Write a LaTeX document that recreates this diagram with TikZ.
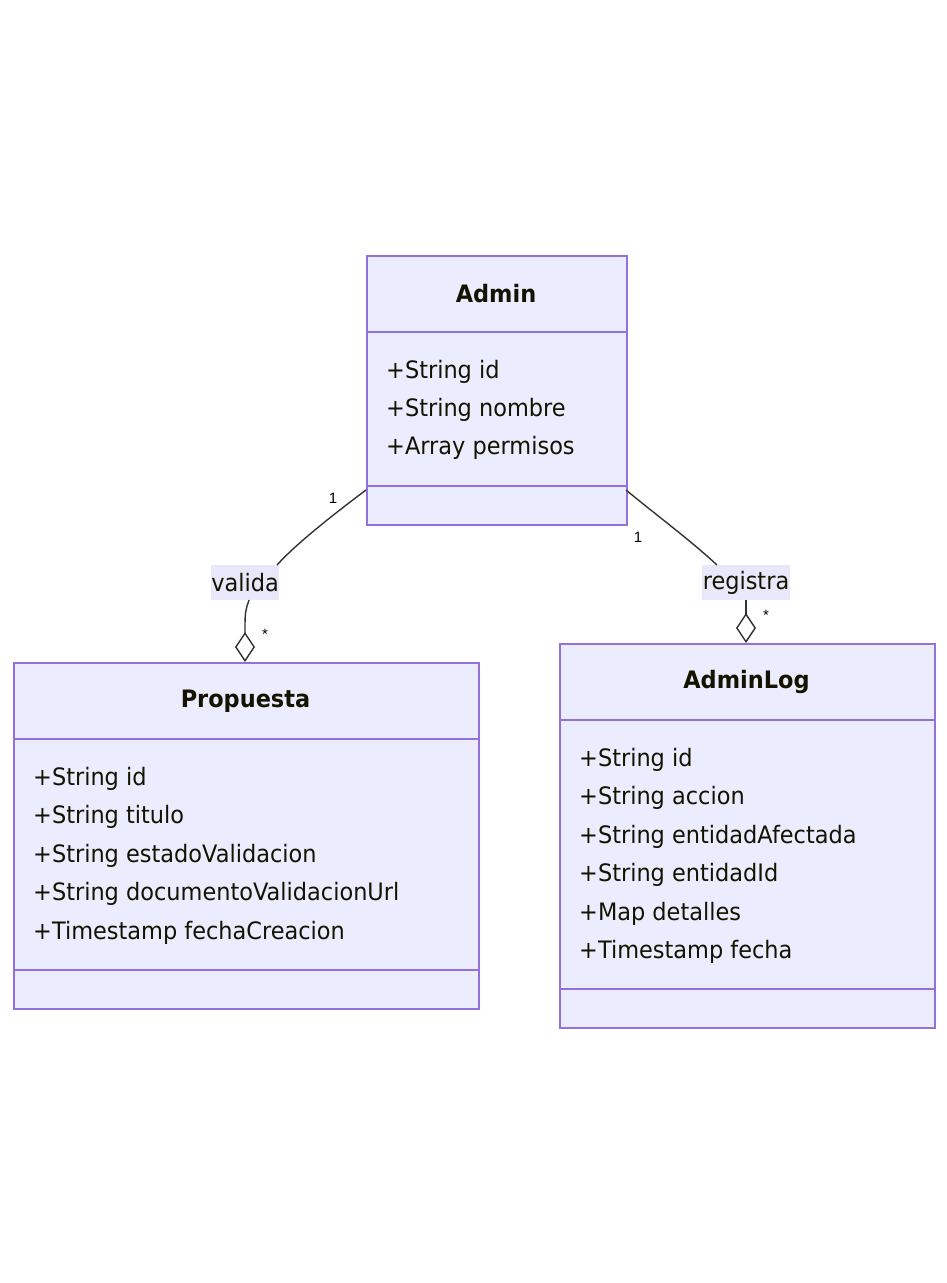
\documentclass[tikz,border=0pt]{standalone}
\usepackage{fontspec}
\setmainfont[FakeStretch=0.935]{DejaVu Sans}
\newfontfamily\smallfont{Liberation Sans}
\usetikzlibrary{arrows.meta}
\definecolor{clsfill}{HTML}{ECECFF}
\definecolor{clsline}{HTML}{9370DB}
\definecolor{txt}{HTML}{131300}
\definecolor{edgec}{HTML}{333333}
\definecolor{lblfill}{HTML}{E8E8FA}
\tikzset{
  cls/.style={draw=clsline, fill=clsfill, line width=1.6pt, anchor=north west, inner sep=0pt},
  div/.style={draw=clsline, line width=1.6pt},
  title/.style={font=\fontsize{24}{28}\selectfont\bfseries, text=txt, anchor=center},
  mem/.style={font=\fontsize{24}{28}\selectfont, text=txt, anchor=west, inner sep=0pt},
  lbl/.style={font=\fontsize{24}{28}\selectfont, text=txt, fill=lblfill, inner sep=0pt, minimum height=35pt},
  card/.style={font=\smallfont\fontsize{15}{17}\selectfont, text=black, inner sep=0pt},
  edge/.style={draw=edgec, line width=1.4pt},
  agg/.style={-{Diamond[fill=white, length=30pt, width=20pt, line width=1.4pt]}}
}
\begin{document}
\begin{tikzpicture}[x=1pt, y=-1pt]
\useasboundingbox (0,0) rectangle (947,1283);
% Admin
\node[cls, minimum width=260pt, minimum height=269pt] (admin) at (366,255) {};
\draw[div] (366,332) -- (626,332);
\draw[div] (366,486) -- (626,486);
\node[title] (adminT) at (496,294) {Admin};
\node[mem] (adm1) at (386,371.5) {+String id};
\node[mem] (adm2) at (386,409.5) {+String nombre};
\node[mem] (adm3) at (386,447.5) {+Array permisos};
% Propuesta
\node[cls, minimum width=465pt, minimum height=346pt] (prop) at (13,662) {};
\draw[div] (13,739) -- (478,739);
\draw[div] (13,970) -- (478,970);
\node[title] (propT) at (245.5,701) {Propuesta};
\node[mem] (p1) at (33,778.5) {+String id};
\node[mem] (p2) at (33,816.5) {+String titulo};
\node[mem] (p3) at (33,855.5) {+String estadoValidacion};
\node[mem] (p4) at (33,893.5) {+String documentoValidacionUrl};
\node[mem] (p5) at (33,932.5) {+Timestamp fechaCreacion};
% AdminLog
\node[cls, minimum width=375pt, minimum height=384pt] (log) at (559,643) {};
\draw[div] (559,720) -- (934,720);
\draw[div] (559,989) -- (934,989);
\node[title] (logT) at (746.5,682) {AdminLog};
\node[mem] (l1) at (579,759.5) {+String id};
\node[mem] (l2) at (579,797.5) {+String accion};
\node[mem] (l3) at (579,836.5) {+String entidadAfectada};
\node[mem] (l4) at (579,874.5) {+String entidadId};
\node[mem] (l5) at (579,913.5) {+Map detalles};
\node[mem] (l6) at (579,951.5) {+Timestamp fecha};
% labels
\node[lbl, minimum width=68pt] (valida) at (245,582.5) {valida};
\node[lbl, minimum width=88pt] (registra) at (746,582.5) {registra};
\coordinate (aL) at (366,490);
\coordinate (aR) at (626,490);
\coordinate (vIn) at (277,565);
\coordinate (rIn) at (717,565);
\coordinate (vOut) at (249,600);
\coordinate (rOut) at (746,600);
\coordinate (pTop) at (245,662);
\coordinate (lTop) at (746,643);
% edges
\draw[edge] (aL) .. controls (330,517) and (295,545) .. (vIn);
\draw[edge, agg] (vOut) .. controls (245,612) .. (pTop);
\draw[edge] (aR) .. controls (660,518) and (690,540) .. (rIn);
\draw[edge, agg] (rOut) -- (lTop);
% cardinalities
\node[card] (c1) at (333,498) {1};
\node[card] (c2) at (638,537) {1};
\node[card] (c3) at (265,634) {*};
\node[card] (c4) at (766,615) {*};
\end{tikzpicture}
\end{document}
